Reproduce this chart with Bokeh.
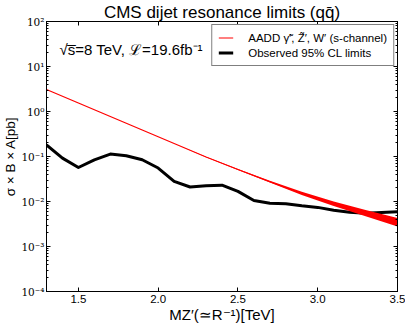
import numpy as np
from bokeh.plotting import figure
from bokeh.models import (LogAxis, LinearAxis, FixedTicker, LogTicker, CustomJSTickFormatter,
                          PrintfTickFormatter, Label, Legend, LegendItem)
from bokeh.embed import file_html
from bokeh.resources import INLINE

# ---- data ----
mass_obs = [1.3, 1.4, 1.5, 1.6, 1.7, 1.8, 1.9, 2.0, 2.1, 2.2, 2.3, 2.4,
            2.5, 2.6, 2.7, 2.8, 2.9, 3.0, 3.1, 3.2, 3.3, 3.4, 3.5]
limit_obs = [0.181, 0.092, 0.057, 0.0845, 0.113, 0.104, 0.0845, 0.0554, 0.028, 0.021,
             0.0225, 0.0231, 0.0168, 0.0105, 0.0091, 0.0089, 0.0080, 0.0074, 0.0064,
             0.0058, 0.0055, 0.0057, 0.0059]

mass_th = [1.3, 1.5, 1.7, 1.9, 2.1, 2.3, 2.5, 2.7, 2.9, 3.1, 3.3, 3.5]
xsec_th = [3.09, 1.55, 0.776, 0.389, 0.195, 0.0977, 0.0513, 0.0275, 0.0151, 0.0089, 0.0055, 0.0035]
xsec_th_hi = [3.09, 1.55, 0.776, 0.389, 0.195, 0.0989, 0.0527, 0.0288, 0.0164, 0.0100, 0.0065, 0.0043]
xsec_th_lo = [3.09, 1.55, 0.776, 0.389, 0.195, 0.0966, 0.0499, 0.0263, 0.0139, 0.0079, 0.0047, 0.0028]

x_ticks = [1.5, 2.0, 2.5, 3.0, 3.5]

title_text = "CMS dijet resonance limits (qq\u0304)"
energy_text = "\u221As\u0305=8 TeV, \u2112=19.6fb\u207B\u00B9"
label_th = "AADD \u03B3\u0303\u2032, Z\u0303\u2032, W\u2032 (s-channel)"
label_obs = "Observed 95% CL limits"
ylabel_text = "\u03C3 \u00D7 B \u00D7 A[pb]"
xlabel_text = "MZ\u2032(\u2243R\u207B\u00B9)[TeV]"

SANS = "Liberation Sans"
SERIF = "DejaVu Serif"

p = figure(output_backend="svg", toolbar_location=None,
           width=405, height=325,
           x_range=(1.3, 3.5), y_range=(1e-4, 1e2), y_axis_type="log",
           min_border_left=45, min_border_right=8, min_border_top=21, min_border_bottom=33)
p.background_fill_color = "white"
p.border_fill_color = "white"
p.outline_line_color = "black"
p.outline_line_width = 1
p.xgrid.visible = False
p.ygrid.visible = False

p.title.text = title_text
p.title.text_font = SANS
p.title.text_font_size = "17px"
p.title.text_font_style = "normal"
p.title.text_color = "black"
p.title.align = "center"
p.title.standoff = 0
p.title.offset = 0

xticker = FixedTicker(ticks=x_ticks, minor_ticks=[])
yticker = LogTicker(num_minor_ticks=10)
yfmt = CustomJSTickFormatter(code="""
const sup = {"-":"\u207B","0":"\u2070","1":"\u00B9","2":"\u00B2","3":"\u00B3","4":"\u2074",
             "5":"\u2075","6":"\u2076","7":"\u2077","8":"\u2078","9":"\u2079"};
const e = Math.round(Math.log10(tick));
return "10" + String(e).split("").map(c => sup[c]).join("");
""")
blank = CustomJSTickFormatter(code="return ''")

def style_axis(ax):
    ax.major_tick_in = 4
    ax.major_tick_out = 0
    ax.minor_tick_in = 2
    ax.minor_tick_out = 0
    ax.axis_line_color = "black"
    ax.major_tick_line_color = "black"
    ax.minor_tick_line_color = "black"

xa = p.xaxis[0]
xa.ticker = xticker
xa.formatter = PrintfTickFormatter(format="%.1f")
xa.major_label_text_font = SANS
xa.major_label_text_font_size = "11.5px"
xa.major_label_text_color = "black"
xa.major_label_standoff = 3
xa.axis_label = xlabel_text
xa.axis_label_text_font = SANS
xa.axis_label_text_font_size = "15px"
xa.axis_label_text_font_style = "normal"
xa.axis_label_text_color = "black"
xa.axis_label_standoff = 0
style_axis(xa)

ya = p.yaxis[0]
ya.ticker = yticker
ya.formatter = yfmt
ya.major_label_text_font = SERIF
ya.major_label_text_font_size = "10.5px"
ya.major_label_text_color = "black"
ya.major_label_standoff = 2
ya.axis_label = ylabel_text
ya.axis_label_text_font = SANS
ya.axis_label_text_font_size = "13.5px"
ya.axis_label_text_font_style = "normal"
ya.axis_label_text_color = "black"
ya.axis_label_standoff = 0
style_axis(ya)

top = LinearAxis(ticker=xticker, formatter=blank, major_label_text_font_size="0px",
                 major_label_standoff=0)
style_axis(top)
p.add_layout(top, "above")
right = LogAxis(ticker=yticker, formatter=blank, major_label_text_font_size="0px",
                major_label_standoff=0)
style_axis(right)
p.add_layout(right, "right")

# ---- data glyphs ----
obs = p.line(mass_obs, limit_obs, line_color="black", line_width=3, line_join="round")
band = p.varea(x=mass_th, y1=xsec_th_lo, y2=xsec_th_hi, fill_color="red", fill_alpha=1.0)
th = p.line(mass_th, xsec_th, line_color="red", line_width=1.2)

legend = Legend(items=[LegendItem(label=label_th, renderers=[th]),
                       LegendItem(label=label_obs, renderers=[obs])],
                location="top_right")
legend.margin = 3
legend.padding = 6
legend.spacing = 2
legend.glyph_width = 15
legend.glyph_height = 13
legend.label_height = 13
legend.label_standoff = 15
legend.label_text_font = SANS
legend.label_text_font_size = "11.5px"
legend.label_text_color = "black"
legend.border_line_color = "black"
legend.border_line_width = 1
legend.background_fill_color = "white"
legend.background_fill_alpha = 1
p.add_layout(legend)

p.add_layout(Label(x=13, y=242.5, x_units="screen", y_units="screen", text=energy_text,
                   text_font=SANS, text_font_size="15px", text_align="left",
                   text_baseline="alphabetic", text_color="black"))

open("out.html", "w").write(file_html(p, INLINE))
